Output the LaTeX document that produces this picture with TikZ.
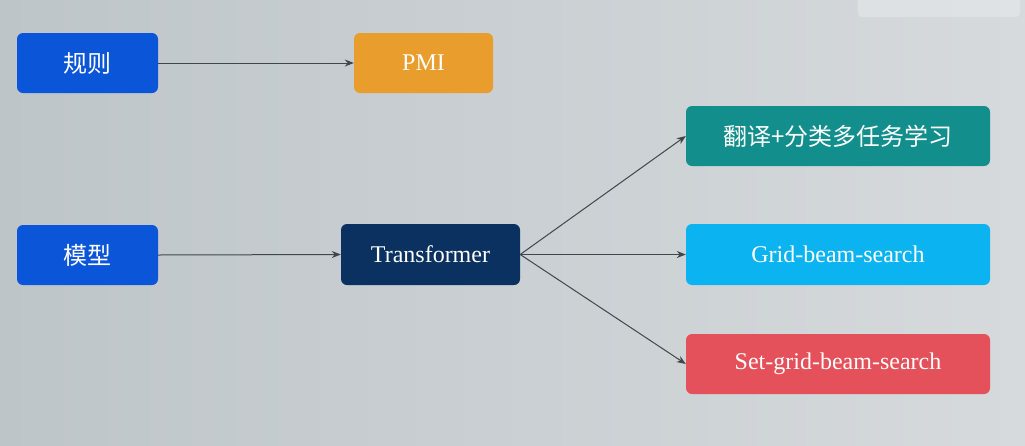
\documentclass[tikz,border=0pt]{standalone}
\usepackage{fontspec}
\setmainfont{Liberation Serif}
\newfontfamily\cjk{Noto Sans CJK SC}
\usetikzlibrary{arrows.meta}
\definecolor{bgL}{HTML}{BEC5C9}
\definecolor{bgR}{HTML}{D6DADD}
\definecolor{cblue}{HTML}{0B55D8}
\definecolor{corange}{HTML}{E99D2C}
\definecolor{cnavy}{HTML}{0A3160}
\definecolor{cteal}{HTML}{128F8D}
\definecolor{csky}{HTML}{0BB4F0}
\definecolor{cred}{HTML}{E5515A}
\definecolor{cline}{HTML}{41464C}
\tikzset{
  box/.style={draw=none, rounded corners=6pt, text=white, inner sep=0pt, anchor=center},
  cjkbox/.style={box, font=\cjk\fontsize{24}{28}\selectfont},
  latbox/.style={box, font=\fontsize{24}{28}\selectfont},
  conn/.style={draw=cline, line width=1pt, -{Stealth[length=9pt,width=7pt]}}
}
\begin{document}
\begin{tikzpicture}[x=1pt,y=-1pt]
\shade[left color=bgL, right color=bgR] (0,0) rectangle (1025,445);
\useasboundingbox (0,0) rectangle (1025,445);
\fill[white, opacity=0.25, rounded corners=4pt] (858,-5) rectangle (1020,17);
\node[cjkbox, fill=cblue, minimum width=141pt, minimum height=60pt] (rule) at (87.5,63) {规则};
\node[latbox, fill=corange, minimum width=139pt, minimum height=60pt] (pmi) at (423.5,63) {PMI};
\node[cjkbox, fill=cblue, minimum width=141pt, minimum height=60pt] (model) at (87.5,255) {模型};
\node[latbox, fill=cnavy, minimum width=179pt, minimum height=61pt] (tf) at (430.5,254.5) {Transformer};
\node[cjkbox, fill=cteal, minimum width=304pt, minimum height=60pt] (mt) at (838,136) {翻译+分类多任务学习};
\node[latbox, fill=csky, minimum width=304pt, minimum height=61pt] (gbs) at (838,254.5) {Grid-beam-search};
\node[latbox, fill=cred, minimum width=304pt, minimum height=60pt] (sgbs) at (838,364) {Set-grid-beam-search};
\draw[conn] (rule.east) -- (pmi.west);
\draw[conn] (model.east) -- (tf.west);
\draw[conn] (tf.east) -- (mt.west);
\draw[conn] (tf.east) -- (gbs.west);
\draw[conn] (tf.east) -- (sgbs.west);
\end{tikzpicture}
\end{document}
